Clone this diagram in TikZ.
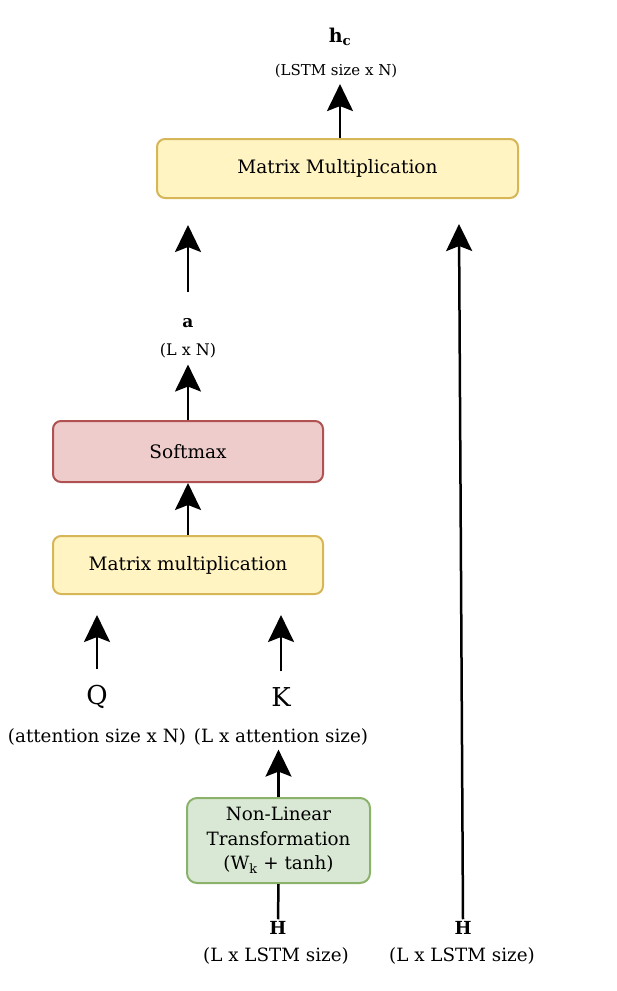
\documentclass[tikz,border=0pt]{standalone}
\usepackage{fontspec}
\setmainfont{DejaVu Serif}
\usepackage{tikz}
\usetikzlibrary{arrows.meta, positioning}
\definecolor{myellow}{HTML}{FFF4C2}
\definecolor{myellowd}{HTML}{D6B656}
\definecolor{mred}{HTML}{EECCCC}
\definecolor{mredd}{HTML}{B05252}
\definecolor{mgreen}{HTML}{D9E8D4}
\definecolor{mgreend}{HTML}{8AB26A}
\tikzset{
  ybox/.style={draw=myellowd, fill=myellow, rounded corners=8pt, line width=2pt,
               font=\fontsize{18.5}{22}\selectfont, inner sep=4pt},
  rbox/.style={draw=mredd, fill=mred, rounded corners=8pt, line width=2pt,
               font=\fontsize{18.5}{22}\selectfont, inner sep=4pt},
  gbox/.style={draw=mgreend, fill=mgreen, rounded corners=10pt, line width=2pt,
               font=\fontsize{18.3}{24.5}\selectfont, inner sep=4pt, align=center},
  lbl/.style={font=\fontsize{15}{18}\selectfont, inner sep=2pt},
  blbl/.style={font=\fontsize{18.3}{22}\selectfont, inner sep=2pt},
  big/.style={font=\fontsize{26}{30}\selectfont, inner sep=2pt},
  arr/.style={-{Stealth[length=27pt, width=26pt, inset=5pt]}, line width=2.5pt, black},
  ln/.style={line width=2.5pt, black},
}
\begin{document}
\begin{tikzpicture}[x=1pt, y=-1pt]
  \useasboundingbox (0,0) rectangle (617,991);

  % top part
  \node[lbl, font=\fontsize{19}{22}\selectfont] (hc) at (340,37) {\textbf{h}\textsubscript{\textbf{c}}};
  \node[lbl] (hcdim) at (336,71) {(LSTM size x N)};
  \node[ybox, minimum width=361pt, minimum height=59pt] (mmtop) at (337.5,168.5) {Matrix Multiplication};

  % attention weights
  \node[lbl, font=\fontsize{17}{20}\selectfont] (a) at (188,323) {\textbf{a}};
  \node[lbl, font=\fontsize{16}{18}\selectfont] (adim) at (188,351) {(L x N)};
  \node[rbox, minimum width=270pt, minimum height=61pt] (soft) at (188,451.5) {Softmax};
  \node[ybox, minimum width=270pt, minimum height=58pt] (mm) at (188,565) {Matrix multiplication};

  % query / key
  \node[big] (q) at (97,697) {Q};
  \node[big] (k) at (281,697) {K};
  \node[blbl] (qdim) at (97,737) {(attention size x N)};
  \node[blbl] (kdim) at (281,737) {(L x attention size)};
  \node[gbox, minimum width=183pt, minimum height=85pt] (nl) at (278.5,840.5)
    {Non-Linear\\Transformation\\(W\textsubscript{k} + tanh)};

  % inputs
  \node[lbl, font=\fontsize{18}{20}\selectfont] (h1) at (278,928) {\textbf{H}};
  \node[blbl] (h1dim) at (276,956) {(L x LSTM size)};
  \node[lbl, font=\fontsize{18}{20}\selectfont] (h2) at (463,928) {\textbf{H}};
  \node[blbl] (h2dim) at (462,956) {(L x LSTM size)};
  \coordinate (rtop) at (459,224);

  \draw[arr, shorten >=4pt] (mmtop.north -| hc) -- (hcdim.south -| hc);
  \draw[arr, shorten <=24pt, shorten >=26pt] (a.north) -- (a.north |- mmtop.south);
  \draw[arr, shorten >=4pt] (soft.north) -- (adim.south);
  \draw[arr] (mm.north) -- (soft.south);
  \draw[arr, shorten <=14pt, shorten >=20pt] (q.north) -- (q.north |- mm.south);
  \draw[arr, shorten <=14pt, shorten >=20pt] (k.north) -- (k.north |- mm.south);
  \draw[arr, shorten >=2pt] (nl.north) -- (nl.north |- kdim.south);
  \draw[ln] (h1.north) -- (nl.south);
  \draw[arr] (h2.north) -- (rtop);
\end{tikzpicture}
\end{document}
